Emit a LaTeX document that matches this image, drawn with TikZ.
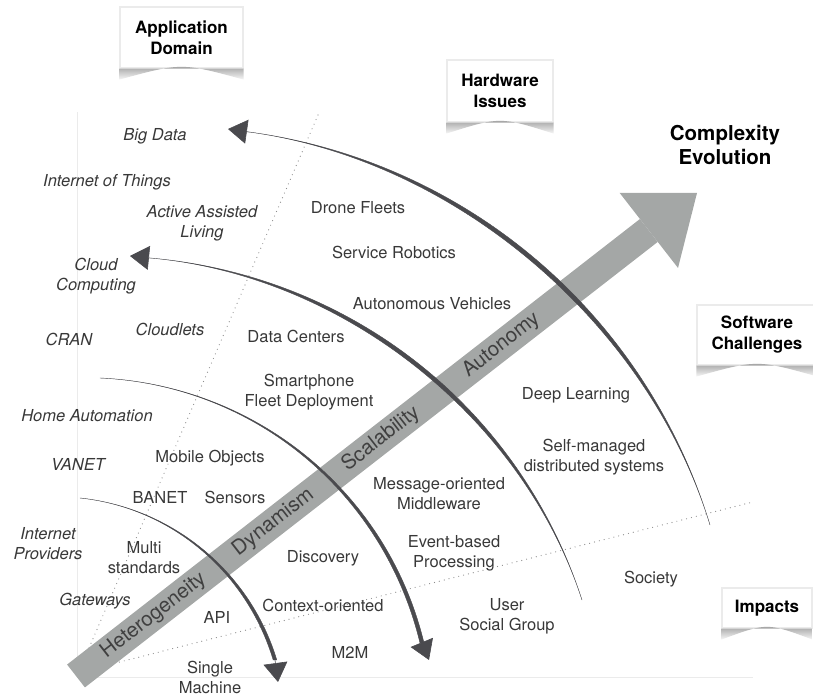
\documentclass[tikz,border=0pt]{standalone}
\usepackage{fontspec}
\setmainfont{TeX Gyre Heros}
\usepackage{tikz}
\usetikzlibrary{arrows.meta, positioning, shadings}
\definecolor{shaft}{RGB}{164,167,166}
\definecolor{pen}{RGB}{74,74,78}
\tikzstyle{sketchstroke} = [fill=pen, draw=pen, line width=0.4pt, line join=round]
\tikzstyle{sketchhead} = [draw=pen, line width=0.6pt, -{Triangle[length=19pt,width=24pt]}]

\begin{document}
\begin{tikzpicture}[x=1pt, y=1pt]
  \tikzset{
    txt/.style={font=\fontsize{16.5}{20}\selectfont, text=black!78, align=center, inner sep=0pt},
    dom/.style={txt, font=\fontsize{16.5}{20}\selectfont\itshape},
    card/.style={rectangle, fill=white, draw=black!8, line width=1.2pt,
      font=\fontsize{17}{21}\selectfont\bfseries, align=center,
      minimum width=#1, minimum height=61pt, inner sep=0pt},
    card/.default=120pt,
    curl/.style={top color=black!45, bottom color=black!3},
    faint/.style={draw=black!8, line width=0.8pt},
    dots/.style={draw=black!45, line width=1.2pt, dash pattern=on 0pt off 5pt, line cap=round},
    onshaft/.style={font=\fontsize{20.5}{24}\selectfont, text=black!75, sloped}
  }

  \useasboundingbox (0,0) rectangle (813,695);

  \draw[faint] (77,583) -- (77,18) -- (753,18);
  \draw[dots] (318,580) -- (86,40);
  \draw[dots] (100,28) -- (753,193);

  \coordinate (base) at (76,19);
  \coordinate (tip) at (697,502);
  \draw[shaft, line width=29pt, -{Triangle[length=61pt,width=95pt,line width=0pt]}] (base) -- (tip)
    node[onshaft, pos=.125] {Heterogeneity}
    node[onshaft, pos=.318] {Dynamism}
    node[onshaft, pos=.491] {Scalability}
    node[onshaft, pos=.685] {Autonomy};

  \coordinate (t1) at (710,170);
  \coordinate (b1) at (249,563);
  \coordinate (a1) at (228,566);
  \fill[sketchstroke] (t1) to[out=107,in=-7.7,looseness=.93] (b1) to[out=-7.7,in=107,looseness=.885] (t1) -- cycle;
  \draw[sketchhead] (b1) -- (a1);

  \coordinate (t2) at (582,95);
  \coordinate (b2) at (150,437);
  \coordinate (a2) at (130,439);
  \fill[sketchstroke] (t2) to[out=108,in=-5,looseness=.94] (b2) to[out=-5,in=108,looseness=.895] (t2) -- cycle;
  \draw[sketchhead] (b2) -- (a2);

  \coordinate (t3) at (100,317);
  \coordinate (b3) at (422,52);
  \coordinate (a3) at (429,35);
  \fill[sketchstroke] (t3) to[out=-2.6,in=103.6,looseness=.95] ([xshift=-2pt]b3) -- ([xshift=2pt]b3) to[out=103.6,in=-2.6,looseness=.95] (t3) -- cycle;
  \draw[sketchhead] (b3) -- (a3);

  \coordinate (t4) at (80,197);
  \coordinate (b4) at (275,35);
  \coordinate (a4) at (278,13);
  \fill[sketchstroke] (t4) to[out=-6,in=106.8,looseness=.93] ([xshift=-1.8pt]b4) -- ([xshift=1.8pt]b4) to[out=106.8,in=-6,looseness=.93] (t4) -- cycle;
  \draw[sketchhead] (b4) -- (a4);

  \node[dom] (bigdata) at (155,559) {Big Data};
  \node[dom] (iot) at (107,513) {Internet of Things};
  \node[dom] (aal) at (202,472) {Active Assisted\\Living};
  \node[dom] (cloud) at (96,419) {Cloud\\Computing};
  \node[dom] (cloudlets) at (170,366) {Cloudlets};
  \node[dom] (cran) at (69,356) {CRAN};
  \node[dom] (home) at (87,279) {Home Automation};
  \node[dom] (vanet) at (78,231) {VANET};
  \node[dom] (isp) at (48,151) {Internet\\Providers};
  \node[dom] (gateways) at (95,94) {Gateways};

  \node[txt] (drones) at (358,487) {Drone Fleets};
  \node[txt] (robotics) at (394,443) {Service Robotics};
  \node[txt] (vehicles) at (432,391) {Autonomous Vehicles};
  \node[txt] (datacenters) at (296,359) {Data Centers};
  \node[txt] (smartphone) at (309,303) {Smartphone\\Fleet Deployment};
  \node[txt] (mobile) at (210,237) {Mobile Objects};
  \node[txt] (banet) at (160,198) {BANET};
  \node[txt, right=17pt of banet] (sensors) {Sensors};
  \node[txt] (multi) at (144,137) {Multi\\standards};

  \node[txt] (discovery) at (323,137) {Discovery};
  \node[txt] (context) at (323,90) {Context-oriented};
  \node[txt] (api) at (217,78) {API};
  \node[txt] (single) at (210,18) {Single\\Machine};
  \node[txt] (m2m) at (350,43) {M2M};
  \node[txt] (mom) at (439,201) {Message-oriented\\Middleware};
  \node[txt] (event) at (454,142) {Event-based\\Processing};
  \node[txt] (user) at (507,79) {User\\Social Group};
  \node[txt] (deep) at (576,300) {Deep Learning};
  \node[txt] (selfman) at (594,238) {Self-managed\\distributed systems};
  \node[txt] (society) at (651,116) {Society};

  \node[font=\fontsize{20.5}{24}\selectfont\bfseries, align=center] (cplx) at (725,550) {Complexity\\Evolution};

  \node[card=123pt] (app) at (181.5,657.5) {Application\\Domain};
  \node[card=106pt, minimum height=62pt] (hw) at (500,604) {Hardware\\Issues};
  \node[card=120pt, minimum height=60pt] (sw) at (757,360) {Software\\Challenges};
  \node[card=90pt, minimum height=40pt] (imp) at (767,87) {Impacts};

  \shade[curl] (app.south west) -- ([yshift=-11pt]app.south west) .. controls ([yshift=6pt]app.south) .. ([yshift=-11pt]app.south east) -- (app.south east) -- cycle;
  \shade[curl] (hw.south west) -- ([yshift=-11pt]hw.south west) .. controls ([yshift=6pt]hw.south) .. ([yshift=-11pt]hw.south east) -- (hw.south east) -- cycle;
  \shade[curl] (sw.south west) -- ([yshift=-11pt]sw.south west) .. controls ([yshift=6pt]sw.south) .. ([yshift=-11pt]sw.south east) -- (sw.south east) -- cycle;
  \shade[curl] (imp.south west) -- ([yshift=-11pt]imp.south west) .. controls ([yshift=6pt]imp.south) .. ([yshift=-11pt]imp.south east) -- (imp.south east) -- cycle;
\end{tikzpicture}
\end{document}
